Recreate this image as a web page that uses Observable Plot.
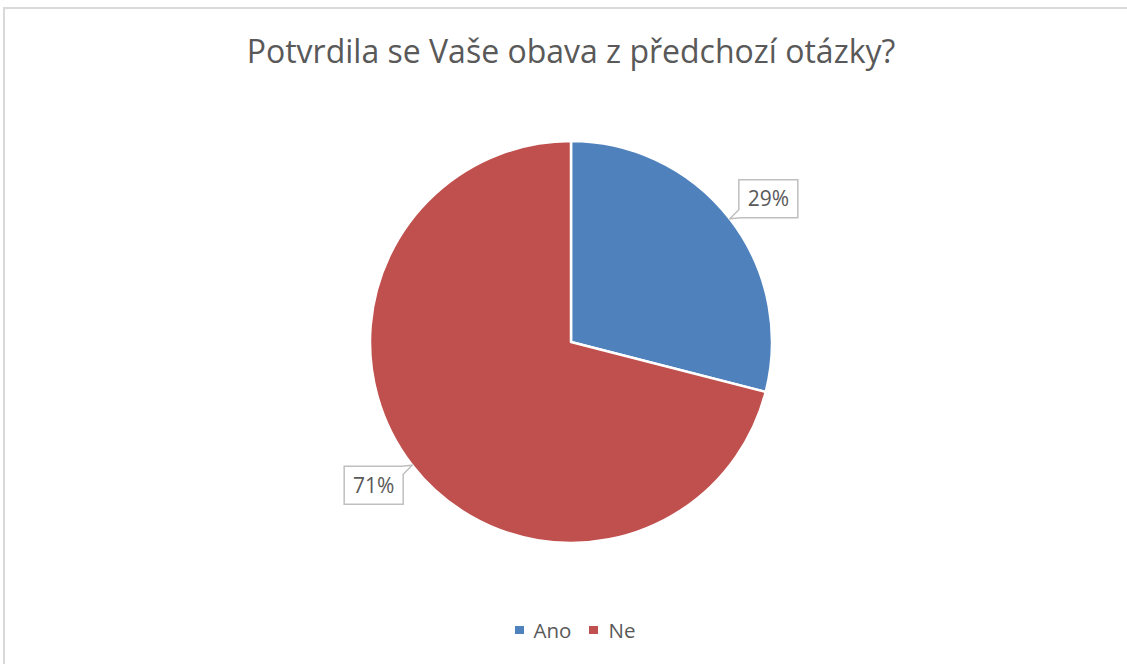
<!DOCTYPE html>
<html><head><meta charset="utf-8">
<script src="https://cdn.jsdelivr.net/npm/d3@7"></script>
<script src="https://cdn.jsdelivr.net/npm/@observablehq/plot@0.6"></script>
<style>
html,body{margin:0;padding:0;background:#fff;}
#chart{position:relative;width:1127px;height:664px;overflow:hidden;font-family:"Open Sans",sans-serif;color:#595959;}
#frame{position:absolute;left:3px;top:7px;width:1140px;height:680px;border-top:2px solid #d9d9d9;border-left:2px solid #d9d9d9;box-sizing:border-box;}
#title{position:absolute;left:0;width:1142px;top:31px;text-align:center;font-size:32px;line-height:40px;white-space:nowrap;}
#plot{position:absolute;left:0;top:100px;}
#legend{position:absolute;left:4px;width:1142px;top:620px;display:flex;justify-content:center;align-items:center;font-size:20.5px;line-height:20px;}
#legend .item{display:flex;align-items:center;margin:0 9px;}
#legend .sw{width:9px;height:8px;margin-right:10px;}
</style>
</head><body>
<div id="chart">
  <div id="frame"></div>
  <div id="title">Potvrdila se Vaše obava z předchozí otázky?</div>
  <div id="plot"></div>
  <div id="legend"></div>
</div>
<script>
const categories = ["Ano", "Ne"];
const values = [29, 71];
const labels = ["29%", "71%"];
const colors = ["#4F81BD", "#C0504D"];

const W = 1127, H = 490, CX = 571, CY = 242, R = 201;
const color = Plot.scale({color: {type: "ordinal", domain: categories, range: colors}});

const rows = categories.map((c, i) => ({category: c, value: values[i], label: labels[i]}));
const slices = d3.pie().sort(null).value(d => d.value)(rows).map(a => {
  const mid = (a.startAngle + a.endAngle) / 2;
  return {...a.data, startAngle: a.startAngle, endAngle: a.endAngle, tx: Math.sin(mid), ty: Math.cos(mid)};
});

function pieMark(index, scales) {
  const x = scales.x, y = scales.y;
  const cx = x(0), cy = y(0), r = x(1) - x(0);
  const g = d3.create("svg:g");
  const arc = d3.arc().innerRadius(0).outerRadius(r);
  g.append("g").attr("transform", `translate(${cx},${cy})`)
    .selectAll("path").data(slices).join("path")
    .attr("d", d => arc(d))
    .attr("fill", d => color.apply(d.category))
    .attr("stroke", "#fff").attr("stroke-width", 2.5).attr("stroke-linejoin", "round");
  const bw = 59, bh = 38, gap = 9;
  for (const s of slices) {
    const px = x(s.tx), py = y(s.ty);
    let x0, y0, path;
    if (s.tx >= 0) {
      x0 = px + gap; y0 = py - bh - 1;
      path = `M${x0},${y0}H${x0 + bw}V${y0 + bh}H${x0 + 2}L${px},${py}L${x0},${y0 + bh - 8}Z`;
    } else {
      x0 = px - gap - bw; y0 = py + 1;
      path = `M${x0},${y0}H${x0 + bw - 2}L${px},${py}L${x0 + bw},${y0 + 8}V${y0 + bh}H${x0}Z`;
    }
    g.append("path").attr("d", path).attr("fill", "#fff").attr("stroke", "#bfbfbf").attr("stroke-width", 1.5);
    g.append("text").attr("x", x0 + bw / 2).attr("y", y0 + bh / 2).attr("dy", "0.35em")
      .attr("text-anchor", "middle").attr("fill", "#595959")
      .attr("font-family", "'Open Sans', sans-serif").attr("font-size", 21)
      .text(s.label);
  }
  return g.node();
}

const chart = Plot.plot({
  width: W, height: H, margin: 0,
  style: {background: "transparent", overflow: "visible"},
  x: {type: "linear", domain: [-1, 1], range: [CX - R, CX + R], axis: null},
  y: {type: "linear", domain: [-1, 1], range: [CY + R, CY - R], axis: null},
  marks: [
    Plot.dot(slices, {x: "tx", y: "ty", r: 0}),
    pieMark
  ]
});
document.getElementById("plot").appendChild(chart);

const legend = d3.select("#legend");
categories.forEach((c) => {
  const it = legend.append("div").attr("class", "item");
  it.append("div").attr("class", "sw").style("background", color.apply(c));
  it.append("span").text(c);
});
</script>
</body></html>
